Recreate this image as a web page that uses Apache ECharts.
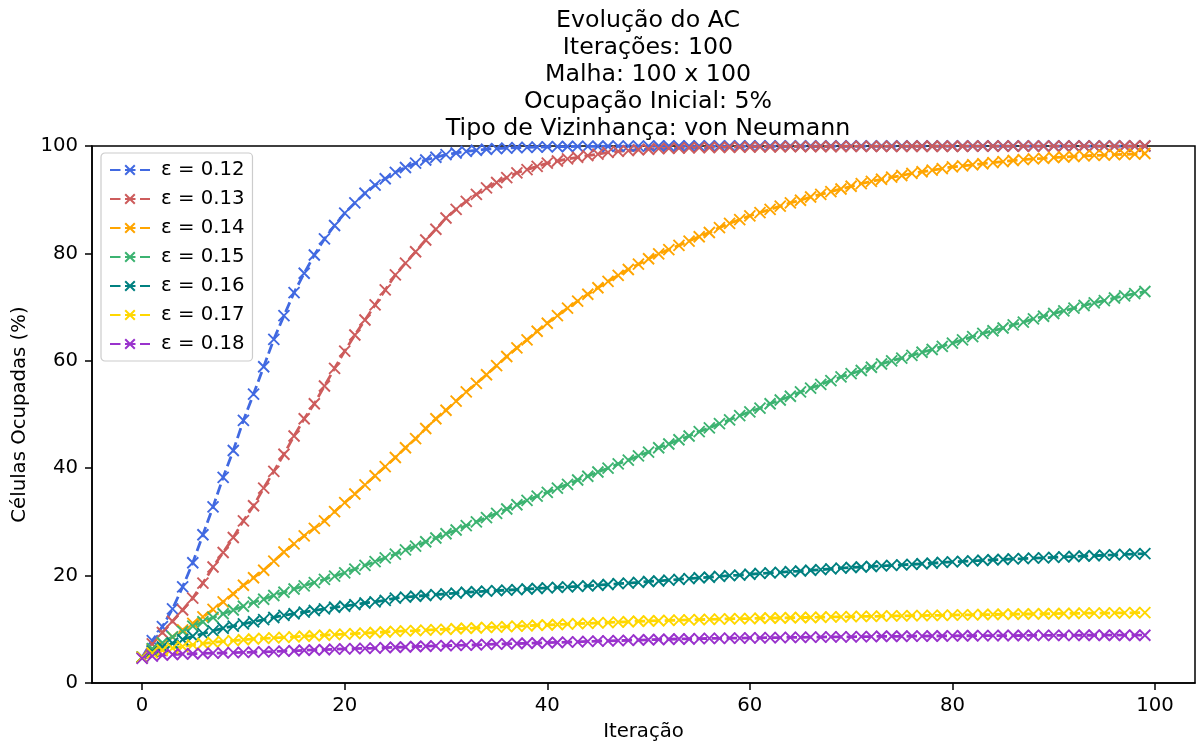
<!DOCTYPE html>
<html>
<head>
<meta charset="utf-8">
<script src="https://cdn.jsdelivr.net/npm/echarts@6/dist/echarts.min.js"></script>
<style>
html,body{margin:0;padding:0;background:#fff;}
#chart{width:1202px;height:747px;}
</style>
</head>
<body>
<div id="chart"></div>
<script>
const iterations = Array.from({length: 100}, (_, i) => i);
const seriesNames = ['ε = 0.12','ε = 0.13','ε = 0.14','ε = 0.15','ε = 0.16','ε = 0.17','ε = 0.18'];
const seriesColors = ['#4169E1','#CD5C5C','#FFA500','#3CB371','#008080','#FFD700','#9932CC'];
const xTicks = [0,20,40,60,80,100];

const eps012 = [4.8,7.9,10.5,13.8,17.9,22.4,27.6,32.8,38.3,43.3,48.9,53.8,58.9,64.0,68.4,72.7,76.3,79.7,82.7,85.2,
87.5,89.4,91.2,92.7,93.9,95.1,96.0,96.8,97.4,97.9,98.4,98.7,99.0,99.2,99.4,99.5,99.6,99.7,99.75,99.8,
99.85,99.88,99.9,99.92,99.94,99.95,99.96,99.97,99.98,99.98,99.99,100,100,100,100,100,100,100,100,100,
100,100,100,100,100,100,100,100,100,100,100,100,100,100,100,100,100,100,100,100,
100,100,100,100,100,100,100,100,100,100,100,100,100,100,100,100,100,100,100,100];

const eps013 = [4.8,7.3,9.4,11.5,13.6,15.8,18.6,21.6,24.3,27.1,30.2,33.0,36.3,39.4,42.6,46.0,49.2,52.0,55.3,58.6,
61.8,64.8,67.6,70.4,73.2,76.0,78.2,80.3,82.5,84.5,86.6,88.2,89.7,91.0,92.2,93.2,94.1,95.0,95.6,96.2,
96.8,97.2,97.6,97.9,98.2,98.5,98.8,99.0,99.15,99.3,99.4,99.5,99.55,99.6,99.65,99.7,99.72,99.75,99.77,99.8,
99.82,99.84,99.85,99.86,99.87,99.88,99.89,99.9,99.9,99.91,99.92,99.92,99.93,99.93,99.94,99.94,99.95,99.95,99.95,99.96,
99.96,99.96,99.97,99.97,99.97,99.97,99.98,99.98,99.98,99.98,99.98,99.99,99.99,99.99,99.99,99.99,99.99,100,100,100];

const eps014 = [4.8,6.3,7.3,8.6,9.9,11.1,12.3,13.7,15.1,16.6,18.2,19.6,21.0,22.7,24.4,25.9,27.4,28.8,30.2,31.9,
33.6,35.2,36.9,38.6,40.3,42.0,43.8,45.5,47.4,49.2,50.8,52.5,54.2,55.8,57.4,59.1,60.8,62.4,63.9,65.5,
67.0,68.4,69.8,71.1,72.4,73.6,74.8,75.9,77.0,78.0,79.0,79.9,80.7,81.5,82.3,83.1,83.9,84.8,85.6,86.3,
87.0,87.6,88.2,88.8,89.4,89.9,90.5,91.0,91.5,92.0,92.5,93.0,93.4,93.8,94.2,94.5,94.9,95.2,95.5,95.8,
96.1,96.3,96.5,96.7,96.9,97.1,97.3,97.45,97.6,97.7,97.85,97.95,98.05,98.15,98.25,98.3,98.4,98.45,98.5,98.6];

const eps015 = [4.8,6.4,7.5,8.6,9.6,10.6,11.4,12.2,12.9,13.6,14.3,15.0,15.6,16.3,16.9,17.5,18.1,18.7,19.3,19.9,
20.5,21.2,21.9,22.6,23.3,24.0,24.8,25.5,26.3,27.0,27.8,28.5,29.3,30.0,30.8,31.6,32.4,33.2,34.0,34.8,
35.5,36.3,37.0,37.8,38.5,39.3,40.0,40.8,41.5,42.3,43.0,43.8,44.5,45.3,46.0,46.8,47.5,48.3,49.0,49.8,
50.5,51.2,52.0,52.7,53.4,54.2,54.9,55.6,56.3,57.0,57.6,58.2,58.8,59.4,60.0,60.5,61.0,61.6,62.1,62.7,
63.3,63.9,64.5,65.1,65.6,66.1,66.7,67.2,67.8,68.3,68.8,69.3,69.8,70.3,70.8,71.2,71.7,72.1,72.5,72.9];

const eps016 = [4.8,5.9,6.7,7.4,8.1,8.7,9.2,9.7,10.2,10.6,11.0,11.4,11.8,12.2,12.6,12.9,13.2,13.5,13.8,14.1,
14.3,14.6,14.9,15.1,15.4,15.8,16.0,16.15,16.3,16.45,16.6,16.75,16.9,17.0,17.1,17.2,17.3,17.4,17.5,17.6,
17.7,17.8,17.9,18.0,18.1,18.2,18.35,18.5,18.6,18.75,18.9,19.0,19.15,19.3,19.45,19.6,19.7,19.85,20.0,20.1,
20.25,20.4,20.5,20.6,20.75,20.85,21.0,21.1,21.25,21.4,21.5,21.6,21.7,21.8,21.9,22.0,22.1,22.2,22.3,22.45,
22.55,22.65,22.75,22.85,22.95,23.0,23.1,23.15,23.25,23.3,23.4,23.5,23.55,23.65,23.7,23.8,23.85,23.95,24.0,24.1];

const eps017 = [4.8,5.6,6.1,6.5,6.8,7.1,7.35,7.55,7.75,7.9,8.05,8.2,8.3,8.4,8.5,8.6,8.7,8.8,8.9,9.0,
9.1,9.2,9.3,9.4,9.5,9.6,9.7,9.75,9.85,9.95,10.0,10.1,10.2,10.25,10.35,10.4,10.5,10.6,10.65,10.75,
10.8,10.9,10.95,11.05,11.1,11.2,11.25,11.35,11.4,11.5,11.55,11.6,11.65,11.7,11.75,11.8,11.85,11.9,11.95,12.0,
12.0,12.05,12.1,12.1,12.15,12.2,12.2,12.25,12.3,12.3,12.35,12.4,12.4,12.45,12.5,12.5,12.55,12.55,12.6,12.6,
12.65,12.7,12.7,12.75,12.75,12.8,12.8,12.85,12.85,12.9,12.9,12.95,12.95,13.0,13.0,13.0,13.05,13.05,13.1,13.1];

const eps018 = [4.6,5.0,5.2,5.3,5.4,5.45,5.5,5.55,5.6,5.65,5.7,5.75,5.8,5.85,5.95,6.0,6.1,6.15,6.2,6.3,
6.35,6.4,6.45,6.5,6.6,6.65,6.7,6.8,6.85,6.9,6.95,7.0,7.05,7.1,7.2,7.25,7.3,7.35,7.4,7.45,
7.5,7.55,7.6,7.65,7.75,7.8,7.85,7.9,7.95,8.0,8.05,8.1,8.15,8.2,8.2,8.25,8.3,8.3,8.35,8.35,
8.4,8.4,8.45,8.45,8.5,8.5,8.55,8.55,8.6,8.6,8.6,8.65,8.65,8.7,8.7,8.7,8.72,8.74,8.75,8.76,
8.78,8.8,8.8,8.82,8.82,8.84,8.84,8.85,8.86,8.86,8.87,8.88,8.88,8.89,8.89,8.9,8.9,8.9,8.9,8.9];

const allSeries = [eps012, eps013, eps014, eps015, eps016, eps017, eps018];

const FONT = 'DejaVu Sans';
const LBL = 19.7;
const X_SYMBOL = 'path://M0,0L10,10M10,0L0,10';

const chart = echarts.init(document.getElementById('chart'), null, {renderer: 'canvas'});
chart.setOption({
  animation: false,
  backgroundColor: '#fff',
  textStyle: {fontFamily: FONT, color: '#000'},
  title: {
    text: 'Evolução do AC\nIterações: 100\nMalha: 100 x 100\nOcupação Inicial: 5%\nTipo de Vizinhança: von Neumann',
    left: 643, top: 2, textAlign: 'center',
    textStyle: {fontFamily: FONT, fontSize: 23.7, fontWeight: 'normal', color: '#000', lineHeight: 27}
  },
  legend: {
    orient: 'vertical', left: 101, top: 153,
    padding: [7, 8, 7, 8],
    backgroundColor: '#fff', borderColor: '#cccccc', borderWidth: 1.2, borderRadius: 4,
    itemWidth: 40, itemHeight: 12, itemGap: 9,
    textStyle: {fontFamily: FONT, fontSize: LBL, color: '#000', lineHeight: 20, padding: [0,0,0,6]},
    data: seriesNames
  },
  grid: {left: 92, right: 7, top: 146, bottom: 64, show: true, borderColor: '#000', borderWidth: 1.5, containLabel: false},
  xAxis: {
    type: 'value', min: -4.95, max: 103.95,
    name: 'Iteração', nameLocation: 'middle', nameGap: 39,
    nameTextStyle: {fontFamily: FONT, fontSize: LBL, color: '#000'},
    axisLine: {show: true, onZero: false, lineStyle: {color: '#000', width: 1.5}},
    axisTick: {show: true, length: 7, lineStyle: {color: '#000', width: 1.5}, customValues: xTicks},
    axisLabel: {fontFamily: FONT, fontSize: LBL, color: '#000', margin: 13, customValues: xTicks},
    splitLine: {show: false}
  },
  yAxis: {
    type: 'value', min: 0, max: 100, interval: 20,
    name: 'Células Ocupadas (%)', nameLocation: 'middle', nameGap: 62,
    nameTextStyle: {fontFamily: FONT, fontSize: LBL, color: '#000'},
    axisLine: {show: true, onZero: false, lineStyle: {color: '#000', width: 1.5}},
    axisTick: {show: true, length: 7, lineStyle: {color: '#000', width: 1.5}},
    axisLabel: {fontFamily: FONT, fontSize: LBL, color: '#000', margin: 14},
    splitLine: {show: false}
  },
  series: allSeries.map((vals, k) => ({
    name: seriesNames[k],
    type: 'line',
    data: iterations.map((x, i) => [x, vals[i]]),
    symbol: X_SYMBOL,
    symbolSize: 11,
    showAllSymbol: true,
    color: seriesColors[k],
    itemStyle: {color: seriesColors[k], borderColor: seriesColors[k], borderWidth: 1.9},
    lineStyle: {color: seriesColors[k], width: 2.8, type: [10.5, 4.5]},
    clip: true
  }))
});
</script>
</body>
</html>
